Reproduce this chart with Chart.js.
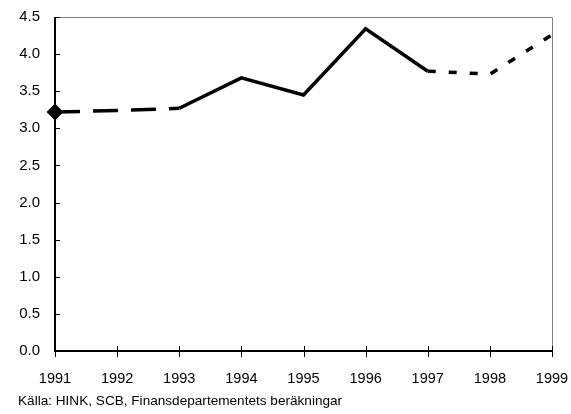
<!DOCTYPE html>
<html>
<head>
<meta charset="utf-8">
<script src="https://cdn.jsdelivr.net/npm/chart.js@4"></script>
<style>
  body { margin: 0; background: #fff; }
  #wrap { position: relative; width: 571px; height: 414px; }
  #source { position: absolute; left: 18px; top: 393px; font: 13.6px "Liberation Sans", Arial, sans-serif; color: #000; white-space: nowrap; }
</style>
</head>
<body>
<div id="wrap">
  <canvas id="chart" width="571" height="414"></canvas>
  <div id="source">Källa: HINK, SCB, Finansdepartementets beräkningar</div>
</div>
<script>
var years = ['1991', '1992', '1993', '1994', '1995', '1996', '1997', '1998', '1999'];
var values = [3.22, 3.24, 3.27, 3.68, 3.45, 4.34, 3.77, 3.73, 4.26];
var yTicks = [0, 0.5, 1, 1.5, 2, 2.5, 3, 3.5, 4, 4.5];
// segments before 1993 and after 1997 are drawn dashed
var solidFrom = '1993';
var solidTo = '1997';

var fontFamily = '"Liberation Sans", Arial, sans-serif';

function segmentDash(ctx) {
    var i = ctx.p0DataIndex;
    if (i < years.indexOf(solidFrom)) return [25, 13];
    if (i >= years.indexOf(solidTo)) return [8, 13];
    return [];
}

var frameAndTicks = {
    id: 'frameAndTicks',
    beforeDatasetsDraw: function(chart) {
        var c = chart.ctx, a = chart.chartArea;
        c.save();
        c.strokeStyle = '#808080';
        c.lineWidth = 1;
        c.beginPath();
        c.moveTo(a.left, a.top + 0.5);
        c.lineTo(a.right + 0.5, a.top + 0.5);
        c.lineTo(a.right + 0.5, a.bottom);
        c.stroke();
        c.strokeStyle = '#000';
        c.lineWidth = 2;
        c.beginPath();
        c.moveTo(a.left, a.top);
        c.lineTo(a.left, a.bottom);
        c.lineTo(a.right + 1, a.bottom);
        c.stroke();
        c.lineWidth = 1;
        var xs = chart.scales.x, ys = chart.scales.y;
        c.beginPath();
        for (var i = 0; i < xs.ticks.length; i++) {
            var px = Math.round(xs.getPixelForTick(i)) + 0.5;
            c.moveTo(px, a.bottom - 5);
            c.lineTo(px, a.bottom + 6);
        }
        for (var j = 0; j < ys.ticks.length; j++) {
            var py = Math.round(ys.getPixelForTick(j)) + 0.5;
            c.moveTo(a.left, py);
            c.lineTo(a.left + 5, py);
        }
        c.stroke();
        c.restore();
    }
};

var ctx = document.getElementById('chart').getContext('2d');
new Chart(ctx, {
    type: 'line',
    data: {
        labels: years,
        datasets: [{
            data: values,
            borderColor: '#000',
            borderWidth: 3.5,
            borderCapStyle: 'butt',
            borderJoinStyle: 'miter',
            tension: 0,
            pointStyle: 'rectRot',
            pointRadius: values.map(function(v, i) { return i === 0 ? 6 : 0; }),
            pointBackgroundColor: '#000',
            pointBorderColor: '#000',
            segment: { borderDash: segmentDash }
        }]
    },
    options: {
        responsive: false,
        animation: false,
        layout: { padding: { top: 17, right: 19, left: 0, bottom: 0 } },
        plugins: {
            legend: { display: false },
            tooltip: { enabled: false }
        },
        scales: {
            x: {
                offset: false,
                grid: { display: false, drawTicks: false },
                border: { display: false },
                ticks: {
                    color: '#000',
                    padding: 19,
                    maxRotation: 0,
                    autoSkip: false,
                    font: { family: fontFamily, size: 14.5 }
                },
                afterFit: function(scale) {
                    scale.height = 63;
                    scale.paddingLeft = 0;
                    scale.paddingRight = 0;
                }
            },
            y: {
                min: 0,
                max: 4.5,
                afterBuildTicks: function(scale) {
                    scale.ticks = yTicks.map(function(v) { return { value: v }; });
                },
                grid: { display: false, drawTicks: false },
                border: { display: false },
                ticks: {
                    color: '#000',
                    padding: 15,
                    font: { family: fontFamily, size: 15 },
                    callback: function(v) { return v.toFixed(1); }
                },
                afterFit: function(scale) {
                    scale.width = 55;
                    scale.paddingTop = 0;
                    scale.paddingBottom = 0;
                }
            }
        }
    },
    plugins: [frameAndTicks]
});
</script>
</body>
</html>
